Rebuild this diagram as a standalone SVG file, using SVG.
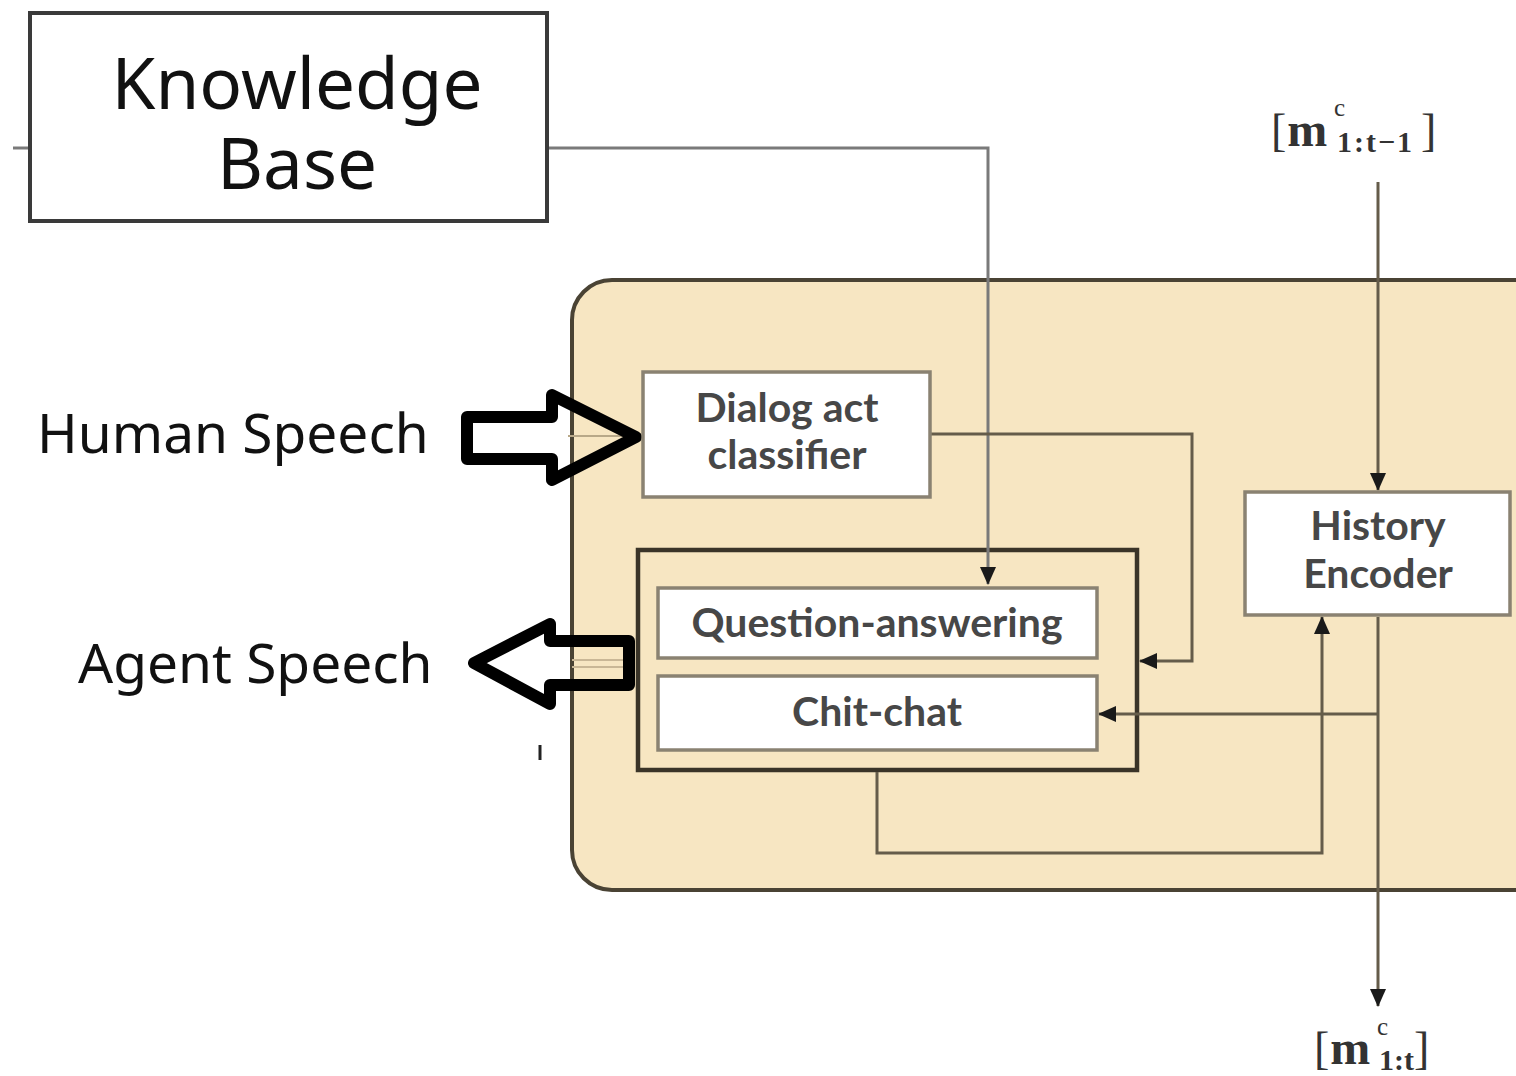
<svg xmlns="http://www.w3.org/2000/svg" width="1516" height="1076" viewBox="0 0 1516 1076">
  <style>
    .kb-text { font-family: "Noto Sans", "Open Sans", sans-serif; font-size: 71px; fill: #111; text-anchor: middle; }
    .side-text { font-family: "Noto Sans", "Open Sans", sans-serif; font-size: 55px; fill: #111; }
    .box-text { font-family: Lato, "Open Sans", sans-serif; font-weight: bold; font-size: 41px; fill: #474747; text-anchor: middle; }
    .math { font-family: "Liberation Serif", "Times New Roman", serif; fill: #333; font-size: 46px; }
    .wbox { fill: #ffffff; stroke: #8a8272; stroke-width: 3.5; }
    .conn { fill: none; stroke: #655c4a; stroke-width: 3; }
    .conn-kb { fill: none; stroke: #7a7a7a; stroke-width: 3; }
    .block { fill: none; stroke: #000; stroke-width: 12; stroke-linejoin: round; }
  </style>
  <defs>
    <marker id="ah" markerUnits="userSpaceOnUse" markerWidth="20" markerHeight="16" refX="17" refY="8" orient="auto">
      <path d="M0,0 L18,8 L0,16 z" fill="#1a1a1a"/>
    </marker>
  </defs>

  <rect width="1516" height="1076" fill="#ffffff"/>

  <!-- dialog manager container -->
  <g id="dialog-manager">
    <rect x="572" y="280" width="990" height="610" rx="40" ry="40" fill="#f7e6c2" stroke="#4a4334" stroke-width="4"/>
  </g>

  <!-- frame around the response modules -->
  <g id="response-modules">
    <rect x="638" y="550" width="499" height="220" fill="#f7e6c2" stroke="#3a3428" stroke-width="4.5"/>
  </g>

  <!-- connectors -->
  <g id="connectors">
    <path class="conn-kb" d="M13,148 H30"/>
    <path class="conn-kb" d="M547,148 H988 V584" marker-end="url(#ah)"/>
    <path class="conn" d="M930,434 H1192 V661 H1140" marker-end="url(#ah)"/>
    <path class="conn" d="M1378,182 V490" marker-end="url(#ah)"/>
    <path class="conn" d="M1378,617 V1006" marker-end="url(#ah)"/>
    <path class="conn" d="M1378,714 H1099" marker-end="url(#ah)"/>
    <path class="conn" d="M877,772 V853 H1322 V617" marker-end="url(#ah)"/>
    <!-- faint speech links under the block arrows -->
    <path d="M568,436 H640" stroke="#b8a888" stroke-width="2" fill="none"/>
    <path d="M572,660 H632 M572,667 H632" stroke="#c9b796" stroke-width="2" fill="none"/>
  </g>

  <!-- knowledge base -->
  <g id="knowledge-base">
    <rect x="30" y="13" width="517" height="208" fill="#ffffff" stroke="#3a3a3a" stroke-width="4"/>
    <text class="kb-text" x="297" y="109">Knowledge<tspan x="297" dy="80">Base</tspan></text>
  </g>

  <!-- human speech input -->
  <g id="human-speech">
    <text class="side-text" x="37" y="453">Human Speech</text>
    <polygon class="block" points="467,417 552,417 552,395 636,437 552,480 552,459 467,459"/>
  </g>

  <!-- agent speech output -->
  <g id="agent-speech">
    <text class="side-text" x="78" y="683">Agent Speech</text>
    <polygon class="block" points="474,663 550,624 550,641 629,641 629,685 550,685 550,704"/>
  </g>

  <!-- dialog act classifier -->
  <g id="dialog-act-classifier">
    <rect class="wbox" x="643" y="372" width="287" height="125"/>
    <text class="box-text" x="787" y="422">Dialog act<tspan x="787" dy="47">classifier</tspan></text>
  </g>

  <g id="question-answering">
    <rect class="wbox" x="658" y="588" width="439" height="70"/>
    <text class="box-text" x="877" y="637">Question-answering</text>
  </g>
  <g id="chit-chat">
    <rect class="wbox" x="658" y="676" width="439" height="74"/>
    <text class="box-text" x="877" y="726">Chit-chat</text>
  </g>

  <!-- history encoder -->
  <g id="history-encoder">
    <rect class="wbox" x="1245" y="492" width="265" height="123"/>
    <text class="box-text" x="1378" y="540">History<tspan x="1378" dy="48">Encoder</tspan></text>
  </g>

  <!-- history input label: [m^c_{1:t-1}] -->
  <g id="history-in">
    <text class="math" x="1271" y="146">[<tspan font-weight="bold" font-size="48" dx="1">m</tspan><tspan font-size="25" x="1334" y="116">c</tspan><tspan font-size="30" font-weight="bold" x="1337" y="152" letter-spacing="2">1:t−1</tspan><tspan x="1421" y="146">]</tspan></text>
  </g>

  <!-- history output label: [m^c_{1:t}] -->
  <g id="history-out">
    <text class="math" x="1314" y="1064">[<tspan font-weight="bold" font-size="48" dx="1">m</tspan><tspan font-size="25" x="1377" y="1035">c</tspan><tspan font-size="30" font-weight="bold" x="1379" y="1070">1:t</tspan><tspan x="1414" y="1064">]</tspan></text>
  </g>

  <!-- stray tick -->
  <path d="M540,745 V760" stroke="#222" stroke-width="3"/>
</svg>
